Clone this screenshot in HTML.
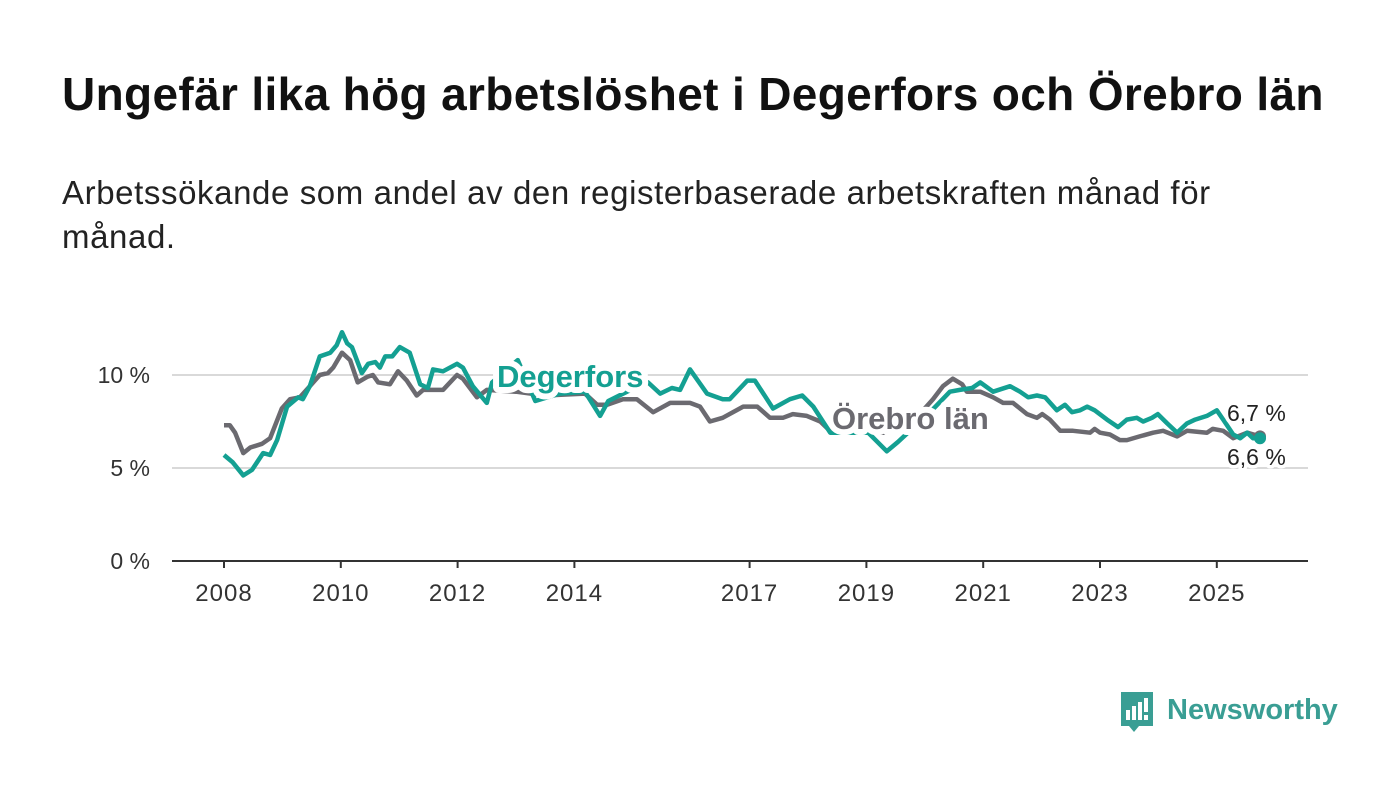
<!DOCTYPE html>
<html><head><meta charset="utf-8">
<style>
body{margin:0;background:#fff;width:1400px;height:794px;overflow:hidden;font-family:"Liberation Sans",sans-serif;}
h1{position:absolute;left:62px;top:67px;margin:0;font-size:46px;font-weight:bold;color:#111;letter-spacing:0.35px;white-space:nowrap;}
p.sub{position:absolute;left:62px;top:171px;margin:0;font-size:33px;line-height:44px;color:#222;width:1210px;letter-spacing:0.6px;}
svg{position:absolute;left:0;top:0;}
</style></head><body>
<h1>Ungefär lika hög arbetslöshet i Degerfors och Örebro län</h1>
<p class="sub">Arbetssökande som andel av den registerbaserade arbetskraften månad för månad.</p>
<svg id="chart" width="1400" height="794"></svg>
<script>
const degDates=[2008.0,2008.15,2008.33,2008.48,2008.67,2008.79,2008.91,2009.08,2009.27,2009.35,2009.47,2009.64,2009.82,2009.93,2010.02,2010.11,2010.19,2010.36,2010.47,2010.59,2010.67,2010.76,2010.88,2011.01,2011.18,2011.36,2011.49,2011.58,2011.75,2011.99,2012.09,2012.26,2012.5,2012.59,2013.03,2013.33,2013.75,2014.18,2014.44,2014.58,2014.9,2015.26,2015.47,2015.67,2015.81,2015.98,2016.27,2016.54,2016.66,2016.96,2017.09,2017.4,2017.69,2017.9,2018.09,2018.38,2019.03,2019.35,2019.54,2019.71,2020.09,2020.43,2020.6,2020.81,2020.95,2021.17,2021.46,2021.63,2021.77,2021.92,2022.06,2022.26,2022.4,2022.52,2022.66,2022.78,2022.91,2023.12,2023.31,2023.46,2023.63,2023.74,2023.89,2023.99,2024.15,2024.32,2024.49,2024.63,2024.83,2025.0,2025.11,2025.28,2025.4,2025.52,2025.62,2025.74];
const degValues=[5.7,5.3,4.6,4.9,5.8,5.7,6.5,8.3,8.8,8.7,9.4,11.0,11.2,11.6,12.3,11.7,11.5,10.1,10.6,10.7,10.4,11.0,11.0,11.5,11.2,9.5,9.3,10.3,10.2,10.6,10.4,9.4,8.5,9.6,10.8,8.6,9.0,9.1,7.8,8.6,9.1,9.6,9.0,9.3,9.2,10.3,9.0,8.7,8.7,9.7,9.7,8.2,8.7,8.9,8.3,6.9,6.9,5.9,6.4,6.9,8.0,9.1,9.2,9.3,9.6,9.1,9.4,9.1,8.8,8.9,8.8,8.1,8.4,8.0,8.1,8.3,8.1,7.6,7.2,7.6,7.7,7.5,7.7,7.9,7.4,6.9,7.4,7.6,7.8,8.1,7.6,6.8,6.6,6.9,6.6,6.6];
const orbDates=[2008.0,2008.1,2008.19,2008.33,2008.45,2008.65,2008.79,2008.99,2009.13,2009.3,2009.47,2009.64,2009.78,2009.87,2010.02,2010.16,2010.29,2010.45,2010.55,2010.64,2010.84,2010.98,2011.13,2011.3,2011.41,2011.75,2011.99,2012.09,2012.33,2012.5,2013.0,2013.5,2014.18,2014.39,2014.56,2014.83,2015.07,2015.35,2015.64,2015.98,2016.15,2016.32,2016.54,2016.89,2017.13,2017.35,2017.57,2017.74,2017.98,2018.21,2018.41,2018.8,2019.3,2019.8,2020.14,2020.31,2020.48,2020.64,2020.72,2020.95,2021.17,2021.34,2021.51,2021.75,2021.92,2022.01,2022.14,2022.32,2022.54,2022.83,2022.91,2023.0,2023.17,2023.34,2023.46,2023.68,2023.91,2024.08,2024.32,2024.49,2024.83,2024.93,2025.11,2025.28,2025.52,2025.74];
const orbValues=[7.3,7.3,6.9,5.8,6.1,6.3,6.6,8.2,8.7,8.8,9.4,10.0,10.1,10.4,11.2,10.8,9.6,9.9,10.0,9.6,9.5,10.2,9.7,8.9,9.2,9.2,10.0,9.8,8.8,9.2,9.1,8.9,9.0,8.4,8.4,8.7,8.7,8.0,8.5,8.5,8.3,7.5,7.7,8.3,8.3,7.7,7.7,7.9,7.8,7.5,6.9,7.0,6.9,7.5,8.7,9.4,9.8,9.5,9.1,9.1,8.8,8.5,8.5,7.9,7.7,7.9,7.6,7.0,7.0,6.9,7.1,6.9,6.8,6.5,6.5,6.7,6.9,7.0,6.7,7.0,6.9,7.1,7.0,6.6,6.9,6.7];
const yTicks=[0,5,10];
const yTickLabels=["0 %","5 %","10 %"];
const xTicks=[2008,2010,2012,2014,2017,2019,2021,2023,2025];

const NS="http://www.w3.org/2000/svg";
const svg=document.getElementById('chart');
const X=t=>224+(t-2008)*58.4;
const Y=v=>561-v*18.6;
function mk(tag,attrs,parent){const e=document.createElementNS(NS,tag);for(const k in attrs)e.setAttribute(k,attrs[k]);(parent||svg).appendChild(e);return e;}

yTicks.forEach((v,i)=>{
  if(v>0){const g=mk('line',{x1:172,x2:1308,y1:Y(v),y2:Y(v),stroke:'#d9d9d9','stroke-width':2});
  
  }
  const t=mk('text',{x:150,y:Y(v)+8,'text-anchor':'end','font-size':23,fill:'#333'});
  t.textContent=yTickLabels[i];
  
  
});
const ax=mk('line',{x1:172,x2:1308,y1:561,y2:561,stroke:'#333','stroke-width':2});


xTicks.forEach(yr=>{
  const tk=mk('line',{x1:X(yr),x2:X(yr),y1:561,y2:568,stroke:'#333','stroke-width':2});
  
  
  const t=mk('text',{x:X(yr),y:601,'text-anchor':'middle','font-size':24,fill:'#333','letter-spacing':1});
  t.textContent=yr;
  
  
});
function line(d,v,col,name){
  const p=mk('path',{d:d.map((t,i)=>(i?'L':'M')+X(t).toFixed(1)+','+Y(v[i]).toFixed(1)).join(''),fill:'none',stroke:col,'stroke-width':4.5,'stroke-linejoin':'round'});
  
  
  const n=d.length-1;
  const c=mk('circle',{cx:X(d[n]),cy:Y(v[n]),r:6,fill:col});
  
  
}
line(orbDates,orbValues,'#6b6a70','orebro-lan-line');
line(degDates,degValues,'#14a092','degerfors-line');
function lab(x,y,txt,col,size,weight,name,sw){
  const t=mk('text',{x:x,y:y,'font-size':size,'font-weight':weight,fill:col,stroke:'#fff','stroke-width':sw,'paint-order':'stroke','stroke-linejoin':'round'});
  t.textContent=txt;
  
  
}
lab(497,387,'Degerfors','#14a092',31,'bold','degerfors-label',12);
lab(832,429,'Örebro län','#6b6a70',31,'bold','orebro-lan-label',12);
lab(1227,421,'6,7 %','#222',23,'normal','orebro-end-value',7);
lab(1227,465,'6,6 %','#222',23,'normal','degerfors-end-value',7);
</script>
<svg width="1400" height="794" style="pointer-events:none">
  <path d="M1121 692h32v34h-14l-5 6-5-6h-8z" fill="#3a9e94"/>
  <rect x="1126" y="710" width="4" height="10" fill="#fff"/>
  <rect x="1132" y="706" width="4" height="14" fill="#fff"/>
  <rect x="1138" y="702" width="4" height="18" fill="#fff"/>
  <rect x="1144" y="698" width="4" height="14" fill="#fff"/>
  <rect x="1144" y="715" width="4" height="5" fill="#fff"/>
  <text x="1167" y="719" font-family="Liberation Sans, sans-serif" font-size="29" font-weight="bold" fill="#3a9e94">Newsworthy</text>
</svg>
</body></html>
